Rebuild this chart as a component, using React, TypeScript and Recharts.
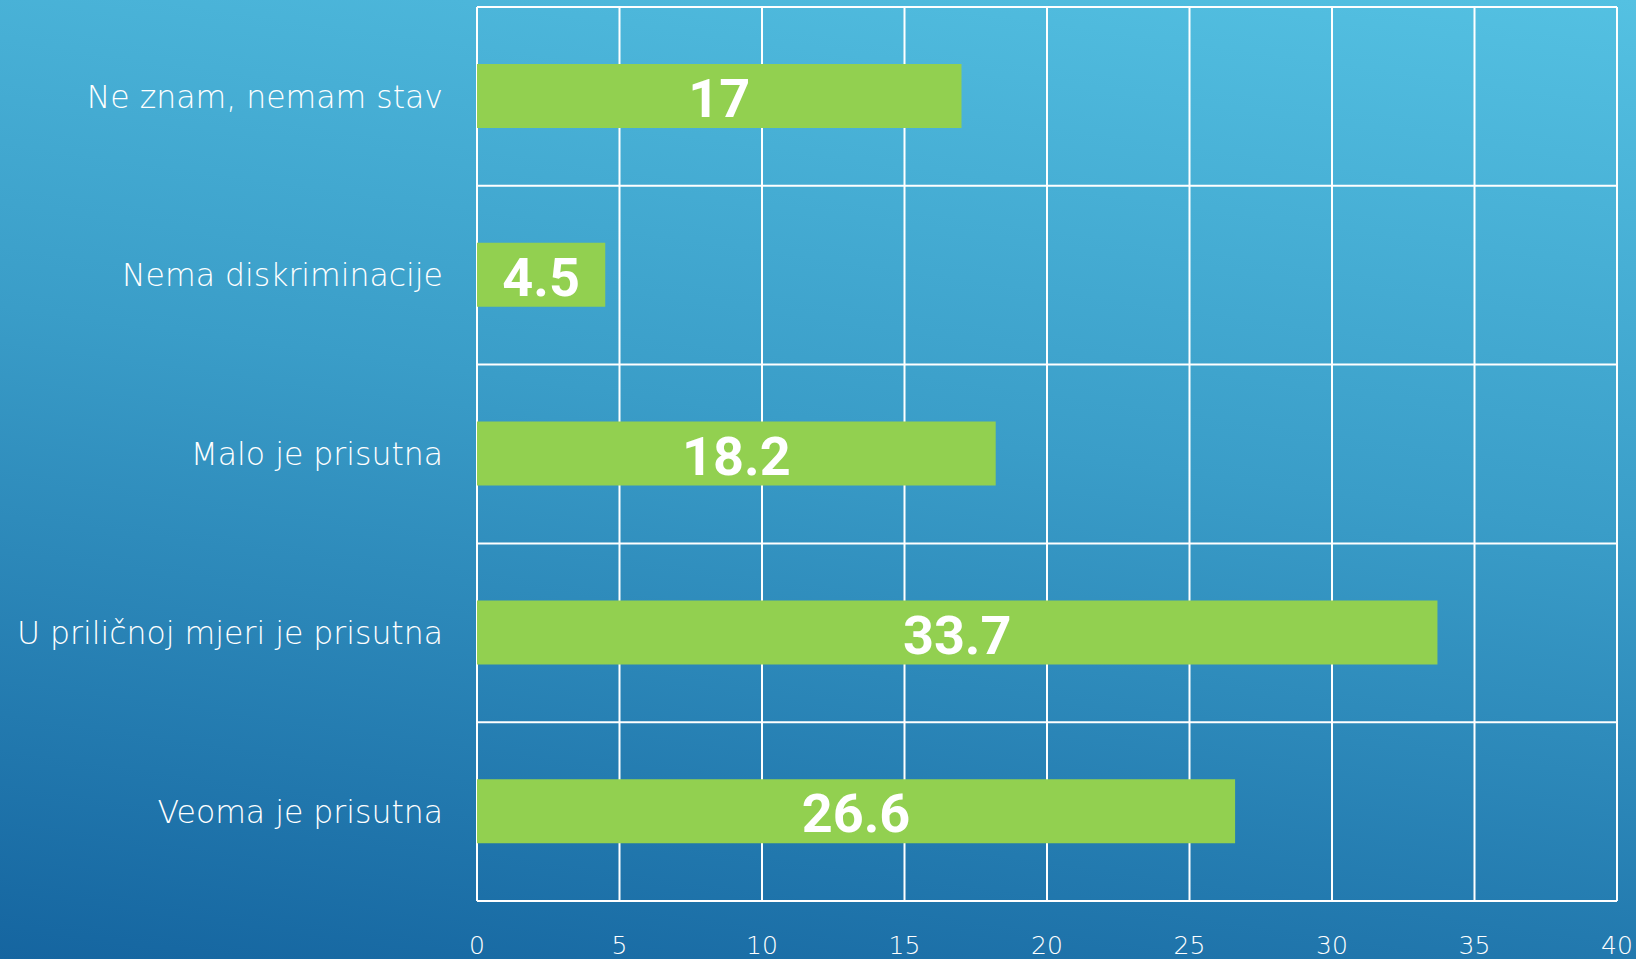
import { Bar, BarChart, CartesianGrid, LabelList, XAxis, YAxis } from 'recharts';

const categories = [
  'Ne znam, nemam stav',
  'Nema diskriminacije',
  'Malo je prisutna',
  'U priličnoj mjeri je prisutna',
  'Veoma je prisutna',
];
const values = [17, 4.5, 18.2, 33.7, 26.6];
const xTicks = [0, 5, 10, 15, 20, 25, 30, 35, 40];

const data = categories.map((name, i) => ({ name, value: values[i] }));

export default function App() {
  return (
    <div
      style={{
        width: 1636,
        height: 959,
        background: 'linear-gradient(188deg, #54c1e2 0%, #3a9dc8 45%, #1565a0 100%)',
      }}
    >
      <style>{'body{margin:0}'}</style>
      <BarChart
        layout="vertical"
        width={1636}
        height={959}
        data={data}
        margin={{ top: 7, right: 19, bottom: 0, left: 7 }}
      >
        <CartesianGrid
          stroke="#ffffff"
          strokeWidth={2}
          horizontalCoordinatesGenerator={({ offset }: any) =>
            categories.map((_, i) => offset.top + (i * offset.height) / categories.length).concat(offset.top + offset.height)
          }
        />
        <XAxis
          type="number"
          domain={[0, 40]}
          ticks={xTicks}
          height={58}
          axisLine={false}
          tickLine={false}
          tickSize={0}
          tickMargin={35}
          tick={{ fill: '#ffffff', fontSize: 25, fontFamily: 'DejaVu Sans', fontWeight: 300 }}
        />
        <YAxis
          type="category"
          dataKey="name"
          width={470}
          axisLine={false}
          tickLine={false}
          tickSize={0}
          tickMargin={34}
          tick={{ fill: '#ffffff', fontSize: 31.5, fontFamily: 'DejaVu Sans', fontWeight: 300 }}
        />
        <Bar dataKey="value" fill="#92d050" barSize={64} isAnimationActive={false}>
          <LabelList
            dataKey="value"
            position="center"
            fill="#ffffff"
            style={{ fontSize: 54, fontWeight: 'bold', fontFamily: 'Roboto' }}
            dy={2}
          />
        </Bar>
      </BarChart>
    </div>
  );
}
